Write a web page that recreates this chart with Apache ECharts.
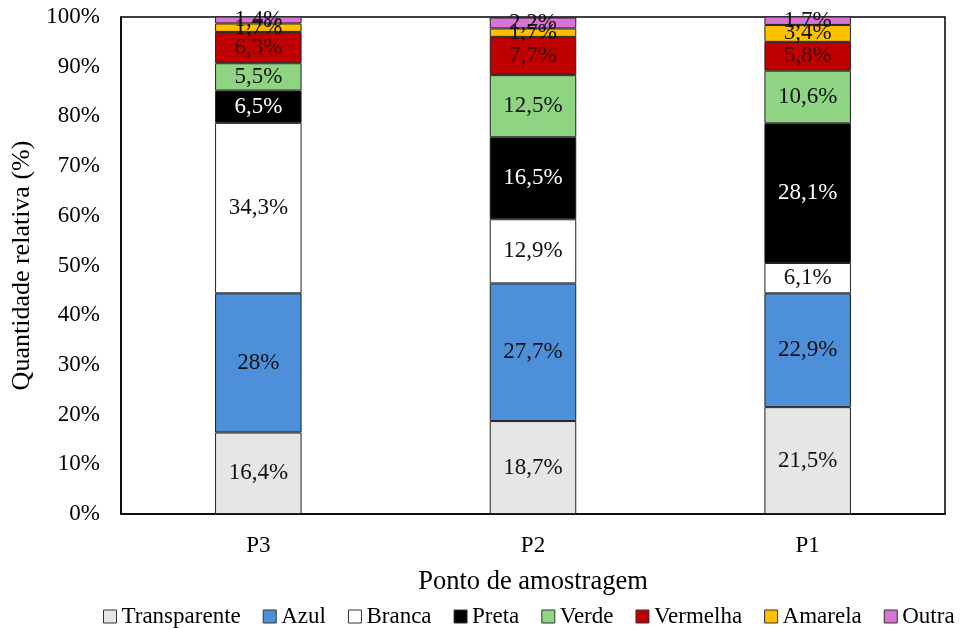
<!DOCTYPE html>
<html>
<head>
<meta charset="utf-8">
<script src="https://cdn.jsdelivr.net/npm/echarts@6/dist/echarts.min.js"></script>
<style>
  html, body { margin: 0; padding: 0; background: #fff; }
  #chart { width: 963px; height: 629px; }
</style>
</head>
<body>
<div id="chart"></div>
<script>
// Sampling points (category axis)
const categories = ['P3', 'P2', 'P1'];

// Relative share (%) of each colour at every sampling point
const transparente = [16.4, 18.7, 21.5];
const azul         = [28.0, 27.7, 22.9];
const branca       = [34.3, 12.9, 6.1];
const preta        = [6.5, 16.5, 28.1];
const verde        = [5.5, 12.5, 10.6];
const vermelha     = [6.3, 7.7, 5.8];
const amarela      = [1.7, 1.7, 3.4];
const outra        = [1.4, 2.2, 1.7];

// Y axis tick values
const yTicks = [0, 10, 20, 30, 40, 50, 60, 70, 80, 90, 100];

const FONT = '"Liberation Serif", "Times New Roman", serif';

const seriesDefs = [
  { name: 'Transparente', data: transparente, color: '#E7E6E6', text: '#111' },
  { name: 'Azul',         data: azul,         color: '#4D8FD9', text: '#111' },
  { name: 'Branca',       data: branca,       color: '#FFFFFF', text: '#111' },
  { name: 'Preta',        data: preta,        color: '#000000', text: '#FFFFFF' },
  { name: 'Verde',        data: verde,        color: '#8FD483', text: '#111' },
  { name: 'Vermelha',     data: vermelha,     color: '#C00000', text: '#3a0a0a' },
  { name: 'Amarela',      data: amarela,      color: '#FFC000', text: '#111' },
  { name: 'Outra',        data: outra,        color: '#D874D4', text: '#111' }
];

const fmt = v => String(+v.toFixed(1)).replace('.', ',') + '%';

const chart = echarts.init(document.getElementById('chart'), null, { renderer: 'canvas' });

chart.setOption({
  backgroundColor: '#ffffff',
  animation: false,
  textStyle: { fontFamily: FONT },
  grid: {
    left: 121, right: 18, top: 17, bottom: 115,
    show: true, borderColor: '#000', borderWidth: 1.5,
    containLabel: false, outerBoundsMode: 'none'
  },
  legend: {
    bottom: 1,
    left: 98,
    padding: [0, 5, 0, 5],
    itemWidth: 13,
    itemHeight: 13,
    itemGap: 22,
    icon: 'rect',
    textStyle: { fontFamily: FONT, fontSize: 23, color: '#000' },
    data: seriesDefs.map(s => ({ name: s.name, itemStyle: { borderColor: '#333', borderWidth: 1 } }))
  },
  xAxis: {
    type: 'category',
    data: categories,
    name: 'Ponto de amostragem',
    nameLocation: 'middle',
    nameGap: 55,
    nameTextStyle: { fontFamily: FONT, fontSize: 26.5, color: '#000' },
    axisLine: { lineStyle: { color: '#000', width: 1.5 } },
    axisTick: { show: false },
    axisLabel: { fontFamily: FONT, fontSize: 23, color: '#000', margin: 20 }
  },
  yAxis: {
    type: 'value',
    min: 0,
    max: 100,
    interval: 10,
    name: 'Quantidade relativa (%)',
    nameLocation: 'middle',
    nameGap: 86,
    nameTextStyle: { fontFamily: FONT, fontSize: 26, color: '#000' },
    axisLine: { show: true, lineStyle: { color: '#000', width: 1.5 } },
    axisTick: { show: false },
    splitLine: { show: false },
    axisLabel: {
      fontFamily: FONT, fontSize: 23, color: '#000', margin: 21,
      formatter: v => (yTicks.includes(v) ? v + '%' : '')
    }
  },
  series: seriesDefs.map(s => ({
    name: s.name,
    type: 'bar',
    stack: 'total',
    barWidth: '31.5%',
    data: s.data,
    itemStyle: { color: s.color, borderColor: '#222', borderWidth: 1 },
    label: {
      show: true,
      position: 'inside',
      fontFamily: FONT,
      fontSize: 23,
      color: s.text,
      formatter: p => fmt(p.value)
    }
  }))
});
</script>
</body>
</html>
